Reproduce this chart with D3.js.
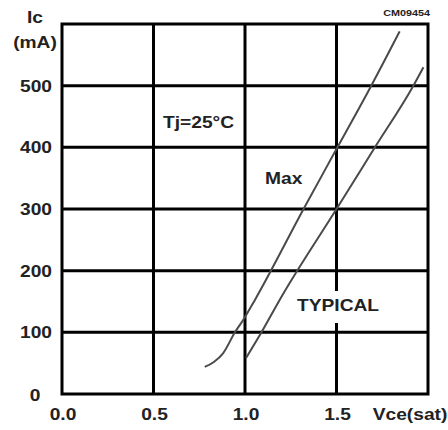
<!DOCTYPE html>
<html>
<head>
<meta charset="utf-8">
<script src="https://cdn.jsdelivr.net/npm/d3@7"></script>
<style>
  html, body { margin: 0; padding: 0; background: #fff; }
  svg { display: block; }
  text { font-family: "Liberation Sans", Arial, sans-serif; font-weight: bold; fill: #222; }
</style>
</head>
<body>
<svg id="chart" width="448" height="430"></svg>
<script>
// Collector current vs. saturation voltage, Tj = 25°C
const xTicks = [0.0, 0.5, 1.0, 1.5];
const xTickLabels = ["0.0", "0.5", "1.0", "1.5"];
const yTicks = [100, 200, 300, 400, 500];
const yTickLabels = ["100", "200", "300", "400", "500"];

const maxVce = [0.78, 0.83, 0.88, 0.945, 0.99, 1.055, 1.32, 1.505, 1.69, 1.845];
const maxIc  = [44, 52, 66, 100, 120, 153, 300, 400, 500, 588];

const typVce = [1.005, 1.09, 1.19, 1.5, 1.71, 1.92, 1.975];
const typIc  = [58, 100, 153, 300, 400, 500, 530];

const svg = d3.select("#chart");
const W = 448, H = 430;
const m = { left: 62, right: 20, top: 24, bottom: 36 };

const x = d3.scaleLinear().domain([0, 2]).range([m.left, W - m.right]);
const y = d3.scaleLinear().domain([0, 600]).range([H - m.bottom, m.top]);

const SX = 1.2; // wide lettering
function label(g, tx, ty, str, anchor, size) {
  return g.append("text")
    .attr("transform", `translate(${tx},${ty}) scale(${SX},1)`)
    .attr("text-anchor", anchor || "start")
    .style("font-size", (size || 16) + "px")
    .text(str);
}

const grid = svg.append("g").attr("stroke", "#000").attr("stroke-width", 3);

// vertical grid lines
grid.selectAll("line.v").data(xTicks.slice(1)).join("line")
  .attr("x1", d => x(d)).attr("x2", d => x(d))
  .attr("y1", y(0)).attr("y2", y(600));
// horizontal grid lines
grid.selectAll("line.h").data(yTicks).join("line")
  .attr("x1", x(0)).attr("x2", x(2))
  .attr("y1", d => y(d)).attr("y2", d => y(d));
// frame
grid.append("rect")
  .attr("x", x(0)).attr("y", y(600))
  .attr("width", x(2) - x(0)).attr("height", y(0) - y(600))
  .attr("fill", "none");

// curves
const line = d3.line().x(d => x(d[0])).y(d => y(d[1])).curve(d3.curveMonotoneX);
const curves = [d3.zip(maxVce, maxIc), d3.zip(typVce, typIc)];
svg.append("g").selectAll("path").data(curves).join("path")
  .attr("d", line)
  .attr("fill", "none")
  .attr("stroke", "#4a4a4a")
  .attr("stroke-width", 2);

const t = svg.append("g");

// y axis labels
yTicks.forEach((v, i) => label(t, 52, y(v) + 6, yTickLabels[i], "end"));
label(t, 35, y(0) + 7, "0", "middle");
label(t, 35, 23, "Ic", "middle");
label(t, 35, 48, "(mA)", "middle");

// x axis labels
xTicks.forEach((v, i) => label(t, x(v) + 1, 420, xTickLabels[i], "middle"));
label(t, 410, 420, "Vce(sat)", "middle");

// annotations
label(t, 163, 128, "Tj=25°C");
label(t, 265, 184, "Max");
const typ = t.append("g");
typ.append("rect").attr("x", 293).attr("y", 291).attr("width", 90).attr("height", 32).attr("fill", "#fff");
label(typ, 297, 311, "TYPICAL");
label(t, 430, 16, "CM09454", "end", 9);
</script>
</body>
</html>
